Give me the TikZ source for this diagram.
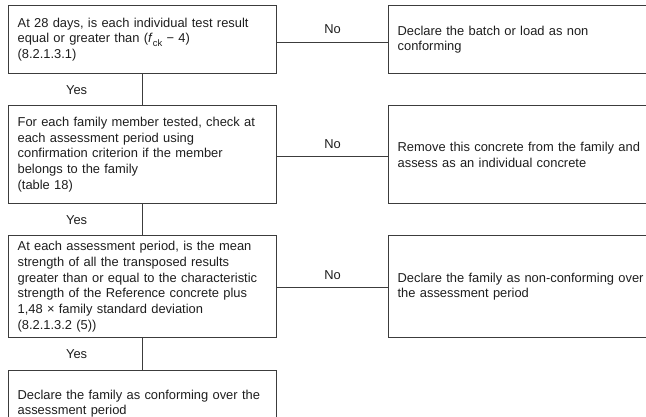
\documentclass[tikz,border=0pt]{standalone}
\usepackage{fontspec}
\setmainfont{Liberation Sans}
\definecolor{linec}{HTML}{3C3C3C}
\definecolor{txtc}{HTML}{1E1E1E}
\newcommand{\sub}[1]{\raisebox{-0.28em}{\fontsize{9.4bp}{10bp}\selectfont #1}}
\begin{document}
\begin{tikzpicture}[x=1bp,y=-1bp,
  every node/.style={text=txtc, font=\fontsize{12.9bp}{15.8bp}\selectfont},
  lbox/.style={draw=linec, line width=1.3bp, anchor=north west, inner xsep=9bp, inner ysep=0pt,
    text width=250bp, align=left},
  rbox/.style={draw=linec, line width=1.3bp, anchor=north west, inner xsep=9bp, inner ysep=0pt,
    text width=282bp, align=left},
  conn/.style={draw=linec, line width=1.3bp},
  lab/.style={inner sep=0pt}]
\useasboundingbox (0,0) rectangle (646,416);
\clip (0,0) rectangle (646,416);

\node[lbox, minimum height=68bp] (b1) at (8,5)
  {At 28 days, is each individual test result\\
   equal or greater than (\textit{f}\sub{ck} − 4)\\
   (8.2.1.3.1)};
\node[lbox, minimum height=98bp] (b2) at (8,105)
  {For each family member tested, check at\\
   each assessment period using\\
   confirmation criterion if the member\\
   belongs to the family\\
   (table 18)};
\node[lbox, minimum height=102bp] (b3) at (8,235)
  {At each assessment period, is the mean\\
   strength of all the transposed results\\
   greater than or equal to the characteristic\\
   strength of the Reference concrete plus\\
   1,48 × family standard deviation\\
   (8.2.1.3.2 (5))};
\node[lbox, minimum height=66bp] (b4) at (8,370)
  {Declare the family as conforming over the\\
   assessment period};

\node[rbox, minimum height=68bp] (r1) at (388,5)
  {Declare the batch or load as non\\
   conforming};
\node[rbox, minimum height=98bp] (r2) at (388,105)
  {Remove this concrete from the family and\\
   assess as an individual concrete};
\node[rbox, minimum height=102bp] (r3) at (388,235)
  {Declare the family as non-conforming over\\
   the assessment period};

\draw[conn] ([yshift=-2.5bp]b1.east) -- node[lab, midway, above=7.5bp] (n1) {No} ([yshift=-2.5bp]r1.west);
\draw[conn] ([yshift=-2bp]b2.east) -- node[lab, midway, above=7.5bp] (n2) {No} ([yshift=-2bp]r2.west);
\draw[conn] ([yshift=-0.7bp]b3.east) -- node[lab, midway, above=7.5bp] (n3) {No} ([yshift=-0.7bp]r3.west);

\draw[conn] (b1.south) -- node[lab, midway, xshift=-66bp] (y1) {Yes} (b2.north);
\draw[conn] (b2.south) -- node[lab, midway, xshift=-66bp] (y2) {Yes} (b3.north);
\draw[conn] (b3.south) -- node[lab, midway, xshift=-66bp] (y3) {Yes} (b4.north);
\end{tikzpicture}
\end{document}
